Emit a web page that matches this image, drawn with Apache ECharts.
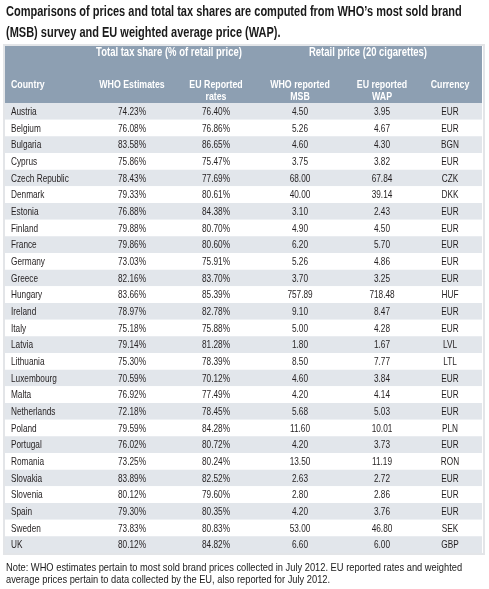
<!DOCTYPE html>
<html><head><meta charset="utf-8">
<script src="https://cdn.jsdelivr.net/npm/echarts@6/dist/echarts.min.js"></script>
<style>html,body{margin:0;padding:0;background:#fff}#c{width:489px;height:589px}</style>
</head><body><div id="c"></div>
<script>
var countries = ["Austria","Belgium","Bulgaria","Cyprus","Czech Republic","Denmark","Estonia","Finland","France","Germany","Greece","Hungary","Ireland","Italy","Latvia","Lithuania","Luxembourg","Malta","Netherlands","Poland","Portugal","Romania","Slovakia","Slovenia","Spain","Sweden","UK"];
var whoTaxShare = [74.23,76.08,83.58,75.86,78.43,79.33,76.88,79.88,79.86,73.03,82.16,83.66,78.97,75.18,79.14,75.30,70.59,76.92,72.18,79.59,76.02,73.25,83.89,80.12,79.30,73.83,80.12];
var euTaxRate = [76.40,76.86,86.65,75.47,77.69,80.61,84.38,80.70,80.60,75.91,83.70,85.39,82.78,75.88,81.28,78.39,70.12,77.49,78.45,84.28,80.72,80.24,82.52,79.60,80.35,80.83,84.82];
var whoMSB = [4.50,5.26,4.60,3.75,68.00,40.00,3.10,4.90,6.20,5.26,3.70,757.89,9.10,5.00,1.80,8.50,4.60,4.20,5.68,11.60,4.20,13.50,2.63,2.80,4.20,53.00,6.60];
var euWAP = [3.95,4.67,4.30,3.82,67.84,39.14,2.43,4.50,5.70,4.86,3.25,718.48,8.47,4.28,1.67,7.77,3.84,4.14,5.03,10.01,3.73,11.19,2.72,2.86,3.76,46.80,6.00];
var currency = ["EUR","EUR","BGN","EUR","CZK","DKK","EUR","EUR","EUR","EUR","EUR","HUF","EUR","EUR","LVL","LTL","EUR","EUR","EUR","PLN","EUR","RON","EUR","EUR","EUR","SEK","GBP"];

var titleLines = ["Comparisons of prices and total tax shares are computed from WHO\u2019s most sold brand", "(MSB) survey and EU weighted average price (WAP)."];
var groupHeaders = ["Total tax share (% of retail price)", "Retail price (20 cigarettes)"];
var colHeaders = ["Country", "WHO Estimates", "EU Reported\nrates", "WHO reported\nMSB", "EU reported\nWAP", "Currency"];
var noteLines = ["Note: WHO estimates pertain to most sold brand prices collected in July 2012. EU reported rates and weighted", "average prices pertain to data collected by the EU, also reported for July 2012."];

// layout: column anchors on the x value axis, alignments
var colX = [11, 132, 216, 300, 382, 450];
var groupX = [169, 368];
var colAlign = ['left', 'center', 'center', 'center', 'center', 'center'];
var FONT = '"Liberation Sans", Arial, sans-serif';
var TXT = '#231f20';
var SX = 0.75;   // condensed look

var columns = [
  countries,
  whoTaxShare.map(function(v){return v.toFixed(2)+'%';}),
  euTaxRate.map(function(v){return v.toFixed(2)+'%';}),
  whoMSB.map(function(v){return v.toFixed(2);}),
  euWAP.map(function(v){return v.toFixed(2);}),
  currency
];

var series = columns.map(function(col, ci){
  return {
    type: 'custom',
    silent: true,
    data: countries.map(function(c, r){ return [colX[ci], r]; }),
    renderItem: function(params, api){
      var p = api.coord([api.value(0), api.value(1)]);
      return {
        type: 'text', x: p[0], y: p[1] + 0.5, scaleX: SX,
        style: {text: col[params.dataIndex], fill: TXT, font: '11px ' + FONT,
                textAlign: colAlign[ci], textVerticalAlign: 'middle'}
      };
    }
  };
});

var graphics = [
  {type:'rect', shape:{x:4, y:45, width:480, height:509}, style:{fill:'none', stroke:'#e3e5e8', lineWidth:2}, z:-1},
  {type:'rect', shape:{x:5, y:46, width:477, height:57}, style:{fill:'#8d9fb2'}}
];
titleLines.forEach(function(t, i){
  graphics.push({type:'text', x:6, y:12 + i*21, scaleX:0.786, style:{text:t, fill:'#1a1a1a', font:'bold 14px '+FONT, textVerticalAlign:'middle', textAlign:'left'}});
});
groupHeaders.forEach(function(h, i){
  graphics.push({type:'text', x:groupX[i], y:53, scaleX:0.79, style:{text:h, fill:'#fff', font:'bold 12px '+FONT, textAlign:'center', textVerticalAlign:'middle'}});
});
colHeaders.forEach(function(h, i){
  graphics.push({type:'text', x:colX[i], y:79, scaleX:0.8, style:{text:h, fill:'#fff', font:'bold 11px '+FONT, textAlign:colAlign[i], textVerticalAlign:'top', lineHeight:12}});
});
noteLines.forEach(function(t, i){
  graphics.push({type:'text', x:6, y:567.5 + i*12, scaleX:0.81, style:{text:t, fill:'#1a1a1a', font:'11.5px '+FONT, textAlign:'left', textVerticalAlign:'middle'}});
});

var chart = echarts.init(document.getElementById('c'));
chart.setOption({
  animation: false,
  backgroundColor: '#fff',
  grid: {left:5, right:7, top:103, bottom:36, containLabel:false},
  xAxis: {type:'value', min:5, max:482, show:false},
  yAxis: {
    type:'category', data: countries, inverse:true,
    axisLine:{show:false}, axisTick:{show:false}, splitLine:{show:false},
    axisLabel:{show:false},
    splitArea:{show:true, interval:0, areaStyle:{color:['#e2e6eb','#ffffff']}}
  },
  series: series,
  graphic: graphics
});
</script></body></html>
